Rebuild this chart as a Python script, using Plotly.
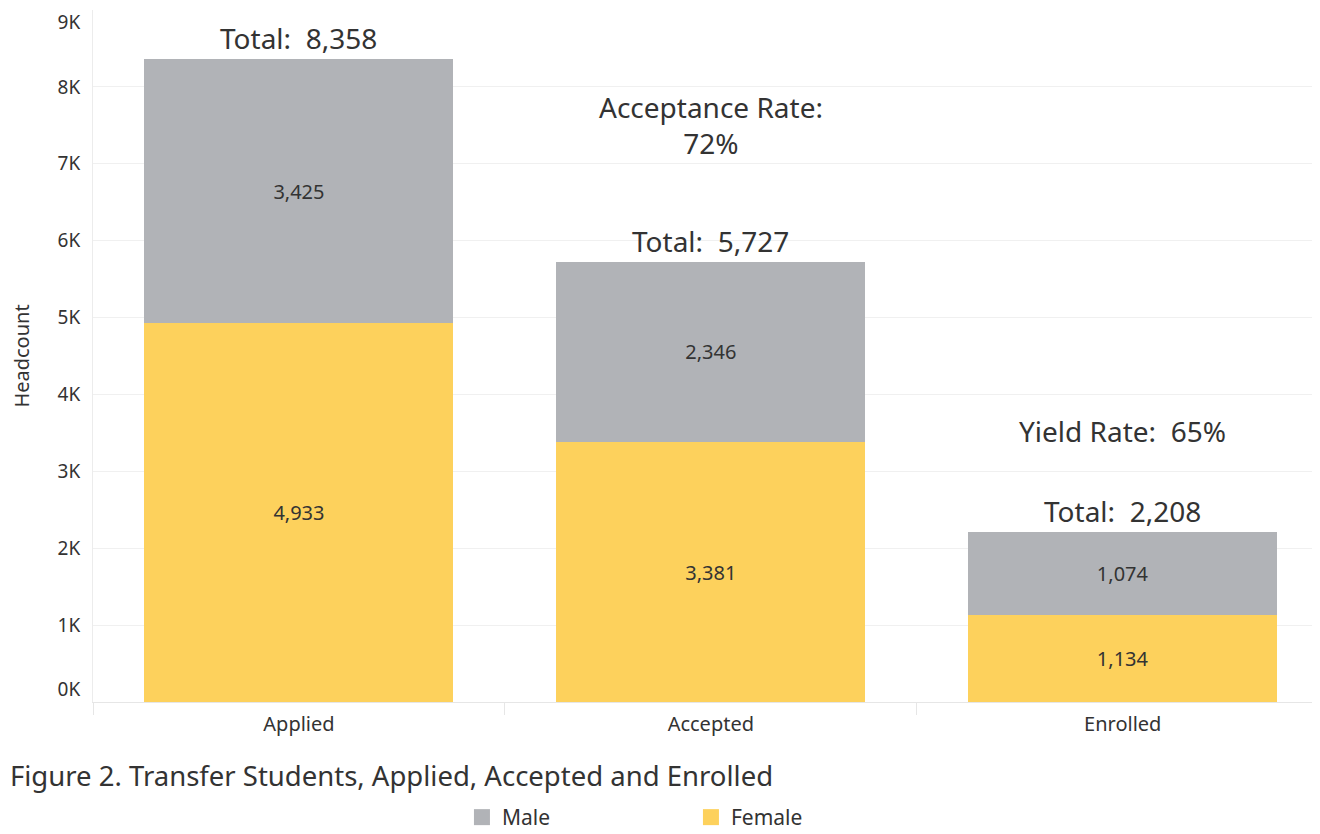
import plotly.graph_objects as go

stages = ['Applied', 'Accepted', 'Enrolled']
female = [4933, 3381, 1134]
male = [3425, 2346, 1074]
totals = [8358, 5727, 2208]

rate_labels = ['Acceptance Rate:<br>72%', 'Yield Rate:\u00a0 65%']
rate_stage = ['Accepted', 'Enrolled']
rate_y = [7500, 3520]

y_ticks = [0, 1000, 2000, 3000, 4000, 5000, 6000, 7000, 8000, 9000]
y_tick_text = ['0K', '1K', '2K', '3K', '4K', '5K', '6K', '7K', '8K', '9K']

maleColor = '#b1b3b7'
femaleColor = '#fdd15c'
textColor = '#333333'
fontName = 'Noto Sans'

# the end labels sit inside the plot, like Tableau does
tick_text = list(y_tick_text)
tick_text[0] = tick_text[0] + '<br> '
tick_text[-1] = ' <br>' + tick_text[-1]

fig = go.Figure()
fig.add_trace(go.Bar(
    x=stages, y=female, name='Female', showlegend=False,
    marker=dict(color=femaleColor, line=dict(width=0)),
    texttemplate='%{y:,}', textposition='inside', insidetextanchor='middle',
    textfont=dict(color=textColor, size=20), constraintext='none',
))
fig.add_trace(go.Bar(
    x=stages, y=male, name='Male', showlegend=False,
    marker=dict(color=maleColor, line=dict(width=0)),
    texttemplate='%{y:,}', textposition='inside', insidetextanchor='middle',
    textfont=dict(color=textColor, size=20), constraintext='none',
))
# legend entries with bigger squares
for nm, col in [('Male', maleColor), ('Female', femaleColor)]:
    fig.add_trace(go.Scatter(x=[None], y=[None], mode='markers', name=nm,
                             marker=dict(symbol='square', size=24, color=col)))

# totals above each bar
for s, t in zip(stages, totals):
    fig.add_annotation(x=s, y=t, text='Total:\u00a0 {:,}'.format(t), showarrow=False,
                       yanchor='bottom', font=dict(size=28, color=textColor))

# rate labels
for s, txt, yy in zip(rate_stage, rate_labels, rate_y):
    fig.add_annotation(x=s, y=yy, text=txt, showarrow=False,
                       font=dict(size=28, color=textColor))

fig.add_annotation(x=-0.069, xref='paper', xanchor='left', y=-0.1055, yref='paper',
                   yanchor='middle', showarrow=False,
                   text='Figure 2. Transfer Students, Applied, Accepted and Enrolled',
                   font=dict(size=27.5, color=textColor))

fig.update_layout(
    width=1312, height=826,
    barmode='stack', bargap=0.25,
    plot_bgcolor='white', paper_bgcolor='white',
    font=dict(family=fontName, color=textColor),
    margin=dict(l=85, r=0, t=2, b=132, autoexpand=False),
    legend=dict(orientation='h', x=0.346, xanchor='left', xref='container',
                y=0.02, yref='container', yanchor='middle',
                entrywidth=184, traceorder='normal',
                font=dict(size=21, color=textColor)),
    showlegend=True,
)
fig.update_xaxes(range=[-0.5, 2.479], showgrid=False, showline=True, linecolor='#e6e6e6',
                 ticks='outside', tickson='boundaries', ticklen=12, tickcolor='#e6e6e6',
                 ticklabelstandoff=4, automargin=False,
                 tickfont=dict(size=20, color=textColor))
fig.update_yaxes(range=[0, 9000], tickvals=y_ticks, ticktext=tick_text,
                 ticklabeloverflow='allow', ticklabelstandoff=8, automargin=False,
                 showgrid=True, gridcolor='#f0f0f0', zeroline=False,
                 showline=True, linecolor='#ececec',
                 tickfont=dict(size=19, color=textColor),
                 title=dict(text='Headcount', font=dict(size=20, color=textColor), standoff=26))

fig.write_html("out.html")
